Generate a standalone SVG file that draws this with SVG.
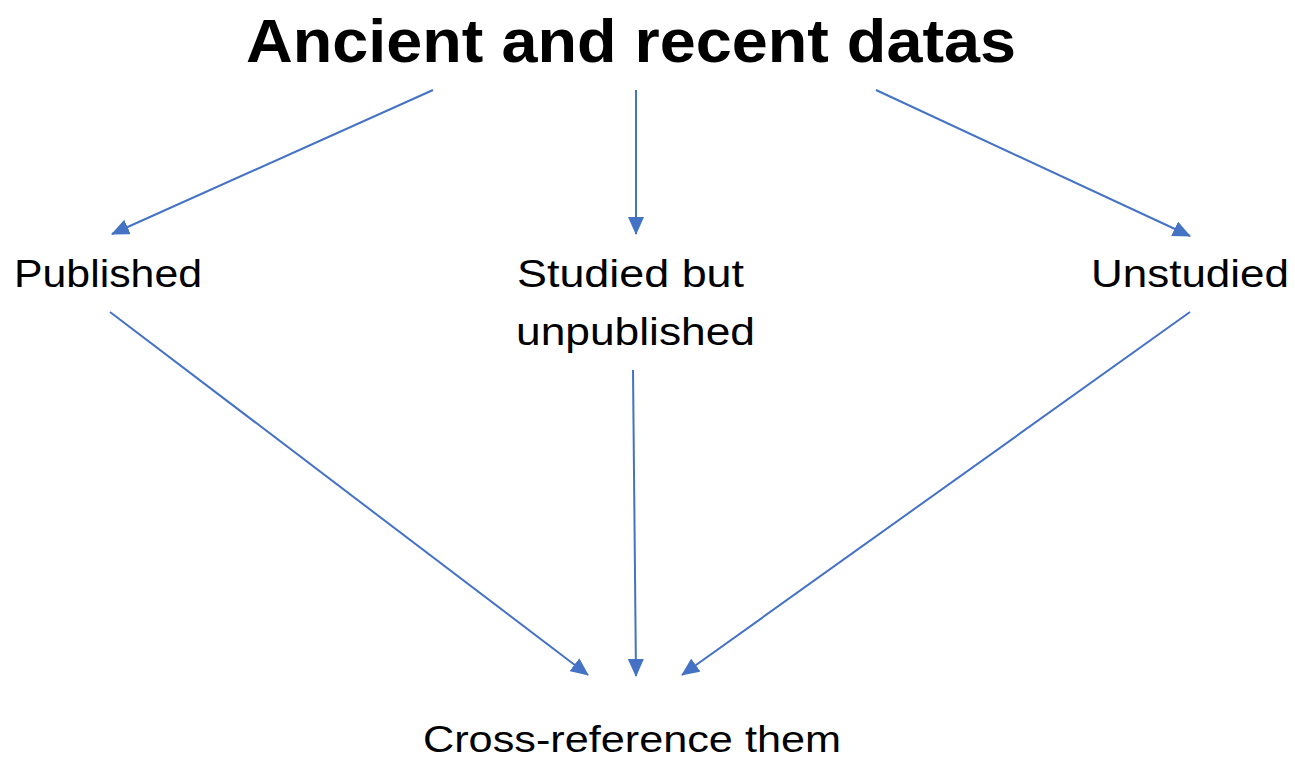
<svg xmlns="http://www.w3.org/2000/svg" width="1295" height="758" viewBox="0 0 1295 758">
<style>
.t{font-family:"Liberation Sans",Arial,sans-serif;fill:#000}
.h{font-size:62px;font-weight:bold}
.l{font-size:38px}
.c line{stroke:#4472C4;stroke-width:2;marker-end:url(#a)}
</style>
<defs>
<marker id="a" markerUnits="userSpaceOnUse" markerWidth="18" markerHeight="16" refX="17" refY="8" orient="auto">
<path d="M0,0 L18,8 L0,16 Z" fill="#4472C4"/>
</marker>
</defs>
<rect width="1295" height="758" fill="#fff"/>
<g id="title"><text class="t h" x="246" y="62" textLength="770" lengthAdjust="spacingAndGlyphs">Ancient and recent datas</text></g>
<g id="published"><text class="t l" x="14" y="287" textLength="188" lengthAdjust="spacingAndGlyphs">Published</text></g>
<g id="studied"><text class="t l" x="517" y="287" textLength="227" lengthAdjust="spacingAndGlyphs">Studied but</text><text class="t l" x="516" y="345" textLength="239" lengthAdjust="spacingAndGlyphs">unpublished</text></g>
<g id="unstudied"><text class="t l" x="1091" y="287" textLength="198" lengthAdjust="spacingAndGlyphs">Unstudied</text></g>
<g id="crossref"><text class="t" x="423" y="752" font-size="36" textLength="418" lengthAdjust="spacingAndGlyphs">Cross-reference them</text></g>
<g class="c" id="connectors">
<line x1="433" y1="90" x2="112" y2="234"/>
<line x1="636" y1="90" x2="636" y2="234"/>
<line x1="876" y1="90" x2="1190" y2="236"/>
<line x1="110" y1="312" x2="588" y2="675"/>
<line x1="633" y1="370" x2="636" y2="676"/>
<line x1="1190" y1="312" x2="682" y2="675"/>
</g>
</svg>
